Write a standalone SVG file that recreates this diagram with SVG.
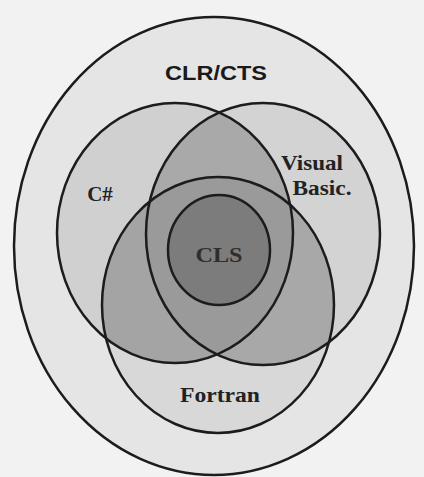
<svg xmlns="http://www.w3.org/2000/svg" width="424" height="477" viewBox="0 0 424 477">
  <style>
    .ring { fill: none; stroke: #1c1c1c; stroke-width: 2.5; }
    .lbl { font-family: "Liberation Serif", "Times New Roman", serif; font-weight: bold; fill: #222; text-anchor: middle; }
    .sans { font-family: "Liberation Sans", Arial, sans-serif; font-weight: bold; fill: #1a1a1a; text-anchor: middle; }
  </style>
  <defs>
    <clipPath id="cCS"><ellipse cx="175" cy="233" rx="118" ry="130"/></clipPath>
    <clipPath id="cVB"><ellipse cx="263" cy="234" rx="117" ry="131"/></clipPath>
    <clipPath id="cFT"><ellipse cx="218" cy="305" rx="116" ry="128"/></clipPath>
  </defs>
  <rect width="424" height="477" fill="#f2f2f2"/>

  <g id="shading">
    <ellipse cx="214" cy="246" rx="200" ry="229" fill="#e5e5e5"/>
    <ellipse cx="175" cy="233" rx="118" ry="130" fill="#d0d0d0"/>
    <ellipse cx="263" cy="234" rx="117" ry="131" fill="#d3d3d3"/>
    <ellipse cx="218" cy="305" rx="116" ry="128" fill="#d8d8d8"/>
    <g clip-path="url(#cCS)"><ellipse cx="263" cy="234" rx="117" ry="131" fill="#a9a9a9"/></g>
    <g clip-path="url(#cCS)"><ellipse cx="218" cy="305" rx="116" ry="128" fill="#a4a4a4"/></g>
    <g clip-path="url(#cVB)"><ellipse cx="218" cy="305" rx="116" ry="128" fill="#a8a8a8"/></g>
    <g clip-path="url(#cCS)"><g clip-path="url(#cVB)"><ellipse cx="218" cy="305" rx="116" ry="128" fill="#9a9a9a"/></g></g>
  </g>

  <g id="clr-cts">
    <ellipse class="ring" cx="214" cy="246" rx="200" ry="229"/>
    <text class="sans" x="216" y="80" font-size="21" textLength="102" lengthAdjust="spacingAndGlyphs">CLR/CTS</text>
  </g>
  <g id="csharp">
    <ellipse class="ring" cx="175" cy="233" rx="118" ry="130"/>
    <text class="lbl" x="100" y="201" font-size="21">C#</text>
  </g>
  <g id="visual-basic">
    <ellipse class="ring" cx="263" cy="234" rx="117" ry="131"/>
    <text class="lbl" x="312" y="170" font-size="21" textLength="62" lengthAdjust="spacingAndGlyphs">Visual</text>
    <text class="lbl" x="322" y="195" font-size="21" textLength="59" lengthAdjust="spacingAndGlyphs">Basic.</text>
  </g>
  <g id="fortran">
    <ellipse class="ring" cx="218" cy="305" rx="116" ry="128"/>
    <text class="lbl" x="220" y="402" font-size="22" textLength="80" lengthAdjust="spacingAndGlyphs">Fortran</text>
  </g>
  <g id="cls">
    <ellipse cx="219" cy="250" rx="51" ry="55" fill="#7c7c7c" stroke="#1c1c1c" stroke-width="2.5"/>
    <text class="lbl" x="219" y="262" font-size="20" fill="#2e2e2e" style="fill:#2e2e2e" textLength="47" lengthAdjust="spacingAndGlyphs">CLS</text>
  </g>
  <g id="connectors"/>
</svg>
